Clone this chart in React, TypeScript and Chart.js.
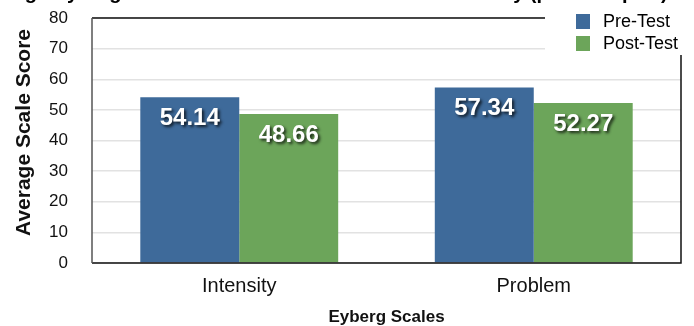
import React, { useEffect, useRef } from "react";
import { Chart, registerables } from "chart.js";

Chart.register(...registerables);

const categories = ["Intensity", "Problem"];
const seriesLabels = ["Pre-Test", "Post-Test"];
const preTest = [54.14, 57.34];
const postTest = [48.66, 52.27];
const yMin = 0;
const yMax = 80;
const yStep = 10;
const titleText = "Average Eyberg Scale Scores at Pre-Test and Post-Test by (parent report)";
const xTitle = "Eyberg Scales";
const yTitle = "Average Scale Score";

const FONT = '"Liberation Sans", Arial, Helvetica, sans-serif';
const BLUE = "#3e6a9a";
const GREEN = "#6ca55a";

const boxPlugin = {
  id: "boxPlugin",
  afterDatasetsDraw(chart: any) {
    const { ctx, chartArea: a } = chart;
    ctx.save();
    ctx.lineWidth = 1.5;
    ctx.strokeStyle = "#111";
    ctx.beginPath();
    ctx.moveTo(a.left, a.top);
    ctx.lineTo(a.right, a.top);
    ctx.lineTo(a.right, a.bottom);
    ctx.lineTo(a.left, a.bottom);
    ctx.stroke();
    ctx.strokeStyle = "#555";
    ctx.beginPath();
    ctx.moveTo(a.left, a.top);
    ctx.lineTo(a.left, a.bottom);
    ctx.stroke();
    ctx.restore();
  },
};

const labelPlugin = {
  id: "labelPlugin",
  afterDatasetsDraw(chart: any) {
    const { ctx } = chart;
    ctx.save();
    ctx.font = `bold 24px ${FONT}`;
    ctx.fillStyle = "#ffffff";
    ctx.textAlign = "center";
    ctx.textBaseline = "middle";
    ctx.shadowColor = "rgba(0,0,0,0.75)";
    ctx.shadowOffsetX = 2;
    ctx.shadowOffsetY = 2;
    ctx.shadowBlur = 3;
    chart.data.datasets.forEach((ds: any, i: number) => {
      const meta = chart.getDatasetMeta(i);
      meta.data.forEach((bar: any, j: number) => {
        const v = ds.data[j];
        ctx.fillText(v.toFixed(2), bar.x, bar.y + 21);
      });
    });
    ctx.restore();
  },
};

const legendTitlePlugin = {
  id: "legendTitlePlugin",
  afterDraw(chart: any) {
    const { ctx, chartArea: a } = chart;
    ctx.save();
    ctx.fillStyle = "#ffffff";
    ctx.fillRect(545, 0, 149, 55);
    // chart title (mostly cut off above the picture)
    ctx.font = `bold 20px ${FONT}`;
    ctx.fillStyle = "#000";
    ctx.textAlign = "left";
    ctx.textBaseline = "alphabetic";
    ctx.fillText(titleText, -30, -1);
    // y-axis title
    ctx.save();
    ctx.translate(24, (a.top + a.bottom) / 2 - 8);
    ctx.rotate(-Math.PI / 2);
    ctx.font = `bold 21px ${FONT}`;
    ctx.fillStyle = "#111";
    ctx.textAlign = "center";
    ctx.textBaseline = "middle";
    ctx.fillText(yTitle, 0, 0);
    ctx.restore();
    // legend
    ctx.font = `18px ${FONT}`;
    ctx.textAlign = "left";
    ctx.textBaseline = "middle";
    chart.data.datasets.forEach((ds: any, i: number) => {
      const cy = 21 + i * 22;
      ctx.fillStyle = ds.backgroundColor;
      ctx.fillRect(576, cy - 7, 14, 15);
      ctx.fillStyle = "#000";
      ctx.fillText(ds.label, 603, cy + 1);
    });
    ctx.restore();
  },
};

export default function App() {
  const ref = useRef<HTMLCanvasElement>(null);
  useEffect(() => {
    const canvas = ref.current;
    if (!canvas) return;
    const chart = new Chart(canvas, {
      type: "bar",
      data: {
        labels: categories,
        datasets: [
          { label: seriesLabels[0], data: preTest, backgroundColor: BLUE, categoryPercentage: 0.672, barPercentage: 1 },
          { label: seriesLabels[1], data: postTest, backgroundColor: GREEN, categoryPercentage: 0.672, barPercentage: 1 },
        ],
      },
      options: {
        animation: false,
        responsive: false,
        maintainAspectRatio: false,
        layout: { autoPadding: false, padding: { top: 18, right: 13, left: 0, bottom: 0 } },
        plugins: {
          legend: { display: false },
          title: { display: false },
          tooltip: { enabled: false },
        },
        scales: {
          x: {
            grid: { display: false, drawTicks: false },
            border: { display: false },
            ticks: { font: { family: FONT, size: 20 }, color: "#111", padding: 11 },
            title: {
              display: true,
              text: xTitle,
              font: { family: FONT, size: 17, weight: "bold" },
              color: "#111",
              padding: { top: 0, bottom: -2 },
            },
            afterFit(scale: any) {
              scale.height = 63;
            },
          },
          y: {
            min: yMin,
            max: yMax,
            grid: { color: "#e2e2e2", lineWidth: 1.5, drawTicks: false },
            border: { display: false },
            ticks: {
              stepSize: yStep,
              font: { family: FONT, size: 17 },
              color: "#111",
              padding: 24,
            },
            title: { display: false },
            afterFit(scale: any) {
              scale.width = 92;
              scale.paddingTop = 0;
              scale.paddingBottom = 0;
            },
          },
        },
      },
      plugins: [boxPlugin, labelPlugin, legendTitlePlugin],
    } as any);
    return () => chart.destroy();
  }, []);
  return (
    <div style={{ position: "fixed", left: 0, top: 0, width: 694, height: 326, background: "#fff" }}>
      <canvas ref={ref} width={694} height={326} style={{ display: "block", width: 694, height: 326 }} />
    </div>
  );
}
